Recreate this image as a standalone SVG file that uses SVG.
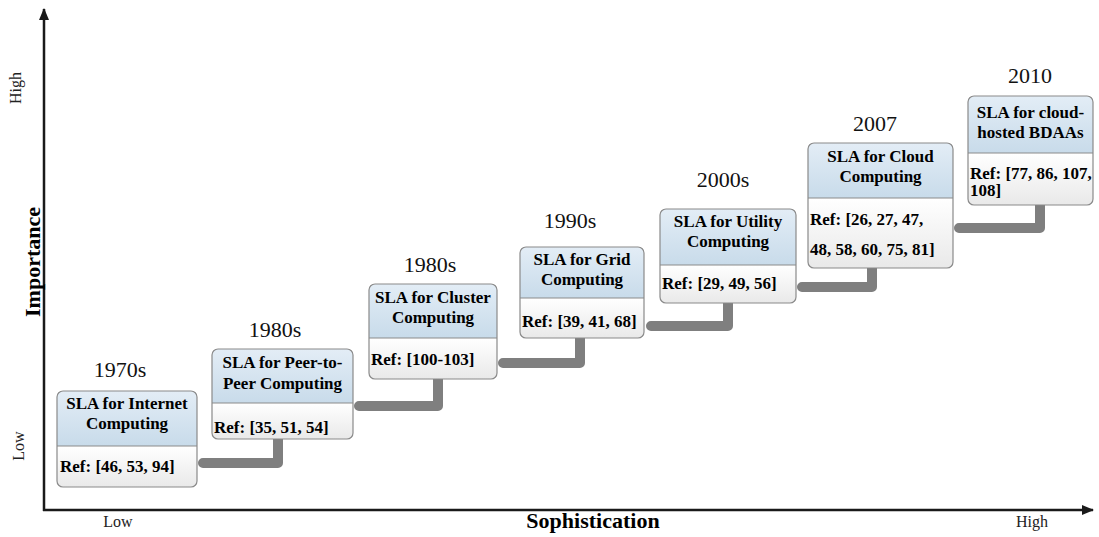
<svg xmlns="http://www.w3.org/2000/svg" width="1099" height="537" viewBox="0 0 1099 537">
  <style>
    .yr { font-family: "Liberation Serif", "Times New Roman", serif; font-size: 22px; fill: #111; text-anchor: middle; }
    .ttl { font-family: "Liberation Serif", "Times New Roman", serif; font-size: 17px; font-weight: bold; fill: #000; text-anchor: middle; }
    .ref { font-family: "Liberation Serif", "Times New Roman", serif; font-size: 17px; font-weight: bold; fill: #000; }
    .ax { font-family: "Liberation Serif", "Times New Roman", serif; font-size: 16px; fill: #222; text-anchor: middle; }
    .axb { font-family: "Liberation Serif", "Times New Roman", serif; font-size: 22px; font-weight: bold; fill: #000; text-anchor: middle; }
    .hdr { fill: url(#hdrGrad); }
    .body { fill: url(#bodyGrad); }
    .frame { fill: none; stroke: #8a8a8a; stroke-width: 1.2; }
    .div { stroke: #8a8a8a; stroke-width: 1; }
    .link { fill: none; stroke: #7f7f7f; stroke-width: 10; stroke-linecap: round; stroke-linejoin: round; }
    .axis { stroke: #1a1a1a; stroke-width: 2.5; fill: none; }
  </style>
  <defs>
    <linearGradient id="hdrGrad" x1="0" y1="0" x2="0" y2="1">
      <stop offset="0" stop-color="#e3edf6"/>
      <stop offset="1" stop-color="#c8dbea"/>
    </linearGradient>
    <linearGradient id="bodyGrad" x1="0" y1="0" x2="0" y2="1">
      <stop offset="0" stop-color="#ffffff"/>
      <stop offset="1" stop-color="#e9e9e9"/>
    </linearGradient>
    <marker id="arrow" viewBox="0 0 12 10" refX="11" refY="5" markerWidth="12" markerHeight="10" markerUnits="userSpaceOnUse" orient="auto">
      <path d="M0,0 L12,5 L0,10 Z" fill="#1a1a1a"/>
    </marker>
  </defs>

  <rect width="1099" height="537" fill="#ffffff"/>

  <!-- axes -->
  <g id="axes">
    <line class="axis" x1="44" y1="511" x2="44" y2="9" marker-end="url(#arrow)"/>
    <line class="axis" x1="43" y1="510" x2="1093" y2="510" marker-end="url(#arrow)"/>
    <text class="ax" transform="translate(21,88) rotate(-90)">High</text>
    <text class="ax" transform="translate(24,446) rotate(-90)">Low</text>
    <text class="axb" transform="translate(40,262) rotate(-90)">Importance</text>
    <text class="ax" x="118" y="527">Low</text>
    <text class="axb" x="593" y="528">Sophistication</text>
    <text class="ax" x="1032" y="527">High</text>
  </g>

  <!-- step connectors -->
  <g id="connectors">
    <path class="link" d="M203,463 H278 V437"/>
    <path class="link" d="M359,406 H438 V377"/>
    <path class="link" d="M503,363 H580 V336"/>
    <path class="link" d="M651,326 H728 V301"/>
    <path class="link" d="M802,287 H872 V266"/>
    <path class="link" d="M959,228 H1040 V203"/>
  </g>

  <!-- era labels -->
  <g id="years">
    <text class="yr" x="120" y="377">1970s</text>
    <text class="yr" x="275" y="337">1980s</text>
    <text class="yr" x="430" y="272">1980s</text>
    <text class="yr" x="570" y="228">1990s</text>
    <text class="yr" x="723" y="187">2000s</text>
    <text class="yr" x="875" y="131">2007</text>
    <text class="yr" x="1030" y="83">2010</text>
  </g>

  <g id="internet">
    <path class="hdr" d="M57,446 V397 Q57,391 63,391 H191 Q197,391 197,397 V446 Z"/>
    <path class="body" d="M57,446 V481 Q57,487 63,487 H191 Q197,487 197,481 V446 Z"/>
    <line class="div" x1="57" y1="446" x2="197" y2="446"/>
    <rect class="frame" x="57" y="391" width="140" height="96" rx="6"/>
    <text class="ttl" x="127" y="409">SLA for Internet</text>
    <text class="ttl" x="127" y="429">Computing</text>
    <text class="ref" x="60" y="472">Ref: [46, 53, 94]</text>
  </g>

  <g id="p2p">
    <path class="hdr" d="M212,403 V355 Q212,349 218,349 H347 Q353,349 353,355 V403 Z"/>
    <path class="body" d="M212,403 V433 Q212,439 218,439 H347 Q353,439 353,433 V403 Z"/>
    <line class="div" x1="212" y1="403" x2="353" y2="403"/>
    <rect class="frame" x="212" y="349" width="141" height="90" rx="6"/>
    <text class="ttl" x="282.5" y="368">SLA for Peer-to-</text>
    <text class="ttl" x="282.5" y="389">Peer Computing</text>
    <text class="ref" x="214" y="433">Ref: [35, 51, 54]</text>
  </g>

  <g id="cluster">
    <path class="hdr" d="M369,338 V290 Q369,284 375,284 H491 Q497,284 497,290 V338 Z"/>
    <path class="body" d="M369,338 V373 Q369,379 375,379 H491 Q497,379 497,373 V338 Z"/>
    <line class="div" x1="369" y1="338" x2="497" y2="338"/>
    <rect class="frame" x="369" y="284" width="128" height="95" rx="6"/>
    <text class="ttl" x="433" y="303">SLA for Cluster</text>
    <text class="ttl" x="433" y="323">Computing</text>
    <text class="ref" x="371" y="365">Ref: [100-103]</text>
  </g>

  <g id="grid">
    <path class="hdr" d="M520,298 V253 Q520,247 526,247 H638 Q644,247 644,253 V298 Z"/>
    <path class="body" d="M520,298 V332 Q520,338 526,338 H638 Q644,338 644,332 V298 Z"/>
    <line class="div" x1="520" y1="298" x2="644" y2="298"/>
    <rect class="frame" x="520" y="247" width="124" height="91" rx="6"/>
    <text class="ttl" x="582" y="265">SLA for Grid</text>
    <text class="ttl" x="582" y="285">Computing</text>
    <text class="ref" x="522" y="327">Ref: [39, 41, 68]</text>
  </g>

  <g id="utility">
    <path class="hdr" d="M660,265 V215 Q660,209 666,209 H790 Q796,209 796,215 V265 Z"/>
    <path class="body" d="M660,265 V297 Q660,303 666,303 H790 Q796,303 796,297 V265 Z"/>
    <line class="div" x1="660" y1="265" x2="796" y2="265"/>
    <rect class="frame" x="660" y="209" width="136" height="94" rx="6"/>
    <text class="ttl" x="728" y="227">SLA for Utility</text>
    <text class="ttl" x="728" y="247">Computing</text>
    <text class="ref" x="662" y="289">Ref: [29, 49, 56]</text>
  </g>

  <g id="cloud">
    <path class="hdr" d="M808,198 V149 Q808,143 814,143 H947 Q953,143 953,149 V198 Z"/>
    <path class="body" d="M808,198 V262 Q808,268 814,268 H947 Q953,268 953,262 V198 Z"/>
    <line class="div" x1="808" y1="198" x2="953" y2="198"/>
    <rect class="frame" x="808" y="143" width="145" height="125" rx="6"/>
    <text class="ttl" x="880.5" y="162">SLA for Cloud</text>
    <text class="ttl" x="880.5" y="182">Computing</text>
    <text class="ref" x="810" y="225">Ref: [26, 27, 47,</text>
    <text class="ref" x="810" y="255">48, 58, 60, 75, 81]</text>
  </g>

  <g id="bdaas">
    <path class="hdr" d="M968,153 V102 Q968,96 974,96 H1087 Q1093,96 1093,102 V153 Z"/>
    <path class="body" d="M968,153 V199 Q968,205 974,205 H1087 Q1093,205 1093,199 V153 Z"/>
    <line class="div" x1="968" y1="153" x2="1093" y2="153"/>
    <rect class="frame" x="968" y="96" width="125" height="109" rx="6"/>
    <text class="ttl" x="1030.5" y="118">SLA for cloud-</text>
    <text class="ttl" x="1030.5" y="138">hosted BDAAs</text>
    <text class="ref" x="970" y="179">Ref: [77, 86, 107,</text>
    <text class="ref" x="970" y="196">108]</text>
  </g>
</svg>
